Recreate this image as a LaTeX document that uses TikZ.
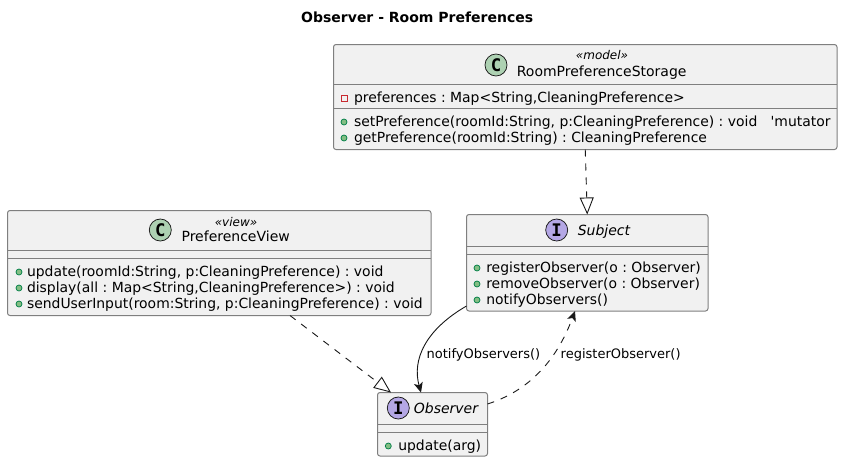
\documentclass[tikz,border=0pt]{standalone}
\usepackage{fontspec}
\setmainfont{DejaVu Sans}
\newfontfamily\iconfont{DejaVu Sans Mono}
\newfontfamily\quotefont{DejaVu Sans}
\usetikzlibrary{arrows.meta}
\def\px{0.75pt}
\definecolor{boxfill}{HTML}{F1F1F1}
\definecolor{boxedge}{HTML}{7F7F7F}
\definecolor{ink}{HTML}{181818}
\definecolor{cspot}{HTML}{ADD1B2}
\definecolor{ispot}{HTML}{B4A7E5}
\definecolor{pubfill}{HTML}{84BE84}
\definecolor{pubedge}{HTML}{038048}
\definecolor{privedge}{HTML}{C82930}
\tikzset{
  umlbox/.style={draw=boxedge,fill=boxfill,line width=1*\px,rounded corners=2.5*\px,inner sep=0pt,outer sep=0pt},
  divider/.style={draw=boxedge,line width=1*\px},
  member/.style={inner sep=0pt,outer sep=0pt,anchor=base west,font=\fontsize{10.45pt}{12pt}\selectfont\frenchspacing,text=black},
  titletext/.style={inner sep=0pt,outer sep=0pt,anchor=base,font=\fontsize{10.5pt}{12pt}\selectfont,text=black},
  abstracttext/.style={titletext,font=\fontsize{10.5pt}{12pt}\selectfont\itshape},
  stereo/.style={inner sep=0pt,outer sep=0pt,anchor=base,font=\fontsize{9pt}{11pt}\selectfont\itshape,text=black},
  edgelabel/.style={inner sep=0pt,outer sep=0pt,anchor=base west,font=\fontsize{9.75pt}{12pt}\selectfont,text=black},
  spot/.style={circle,draw=ink,line width=0.75*\px,minimum size=22*\px,inner sep=0pt,outer sep=0pt,text=black,font=\iconfont\bfseries\fontsize{13pt}{13pt}\selectfont},
  pub/.style={circle,draw=pubedge,fill=pubfill,line width=0.75*\px,minimum size=6*\px,inner sep=0pt,outer sep=0pt},
  priv/.style={rectangle,draw=privedge,line width=0.75*\px,minimum size=6*\px,inner sep=0pt,outer sep=0pt},
  realize/.style={draw=ink,line width=0.9*\px,dash pattern=on 7*\px off 7*\px,-{Triangle[open,length=17*\px,width=14*\px,line width=0.9*\px]}},
  assoc/.style={draw=ink,line width=0.9*\px,-{Stealth[length=10*\px,width=9*\px,inset=2.5*\px]}},
  dep/.style={draw=ink,line width=0.9*\px,dash pattern=on 7*\px off 7*\px,-{Stealth[length=10*\px,width=9*\px,inset=2.5*\px]}}
}
\begin{document}
\begin{tikzpicture}[x=\px,y=-\px]
\useasboundingbox (0,0) rectangle (846,462);
\node[titletext,font=\fontsize{10.5pt}{12pt}\selectfont\bfseries] (title) at (417.2,22.7) {Observer - Room Preferences};

% boxes
\node[umlbox,minimum width=503.5*\px,minimum height=105*\px] (room) at (585.25,97) {};
\node[umlbox,minimum width=423.5*\px,minimum height=105*\px] (view) at (219.25,263) {};
\node[umlbox,minimum width=241.5*\px,minimum height=96.5*\px] (subject) at (587.25,262.75) {};
\node[umlbox,minimum width=110*\px,minimum height=63.5*\px] (observer) at (432.5,424.25) {};

% dividers
\draw[divider] (room.west |- 0,84.5) -- (room.east |- 0,84.5);
\draw[divider] (room.west |- 0,108.5) -- (room.east |- 0,108.5);
\draw[divider] (view.west |- 0,250.5) -- (view.east |- 0,250.5);
\draw[divider] (view.west |- 0,258.5) -- (view.east |- 0,258.5);
\draw[divider] (subject.west |- 0,246.5) -- (subject.east |- 0,246.5);
\draw[divider] (subject.west |- 0,254) -- (subject.east |- 0,254);
\draw[divider] (observer.west |- 0,424.5) -- (observer.east |- 0,424.5);
\draw[divider] (observer.west |- 0,432) -- (observer.east |- 0,432);

% spots
\node[spot,fill=cspot] (roomspot) at (496,65) {C};
\node[spot,fill=cspot] (viewspot) at (160.3,230) {C};
\node[spot,fill=ispot] (subjectspot) at (556.7,230) {I};
\node[spot,fill=ispot] (observerspot) at (398.3,408) {I};

% headers
\node[stereo] (roomstereo) at (602,59) {«model»};
\node[titletext] (roomname) at (601.7,76) {RoomPreferenceStorage};
\node[stereo] (viewstereo) at (236,226.7) {«view»};
\node[titletext] (viewname) at (235.7,241.7) {PreferenceView};
\node[abstracttext] (subjectname) at (604,235) {Subject};
\node[abstracttext] (observername) at (446,413) {Observer};

% room members
\node[priv] (m1i) at (344,98.5) {};
\node[member] (m1) at (354,102) {preferences : Map<String,CleaningPreference>};
\node[pub] (m2i) at (344,122) {};
\node[member] (m2) at (354,126) {setPreference(roomId:String, p:CleaningPreference) : void\ \ \ {\quotefont'}mutator};
\node[pub] (m3i) at (344,138) {};
\node[member] (m3) at (354,142) {getPreference(roomId:String) : CleaningPreference};

% view members
\node[pub] (v1i) at (19,272) {};
\node[member] (v1) at (27,276) {update(roomId:String, p:CleaningPreference) : void};
\node[pub] (v2i) at (19,288) {};
\node[member] (v2) at (27,292) {display(all : Map<String,CleaningPreference>) : void};
\node[pub] (v3i) at (19,304) {};
\node[member] (v3) at (27,308) {sendUserInput(room:String, p:CleaningPreference) : void};

% subject members
\node[pub] (s1i) at (477,268) {};
\node[member] (s1) at (486.3,272) {registerObserver(o : Observer)};
\node[pub] (s2i) at (477,284) {};
\node[member] (s2) at (486.3,288) {removeObserver(o : Observer)};
\node[pub] (s3i) at (477,300) {};
\node[member] (s3) at (486.3,304) {notifyObservers()};

% observer members
\node[pub] (o1i) at (388.3,446) {};
\node[member] (o1) at (398.3,450.7) {update(arg)};

% connectors
\draw[realize] (room.south) -- (subject.north);
\draw[realize] ([xshift=282.5*\px]view.south west) -- ([xshift=13.5*\px]observer.north west);
\draw[assoc] ([yshift=5*\px]subject.south west) .. controls (425,330) and (412,360) .. ([xshift=43.5*\px]observer.north west);
\draw[dep] ([yshift=-11.5*\px]observer.north east) .. controls (525,392) and (555,365) .. ([xshift=108.5*\px]subject.south west);

% edge labels
\node[edgelabel] (lab1) at (426.7,358.7) {notifyObservers()};
\node[edgelabel] (lab2) at (560.7,358.7) {registerObserver()};
\end{tikzpicture}
\end{document}
